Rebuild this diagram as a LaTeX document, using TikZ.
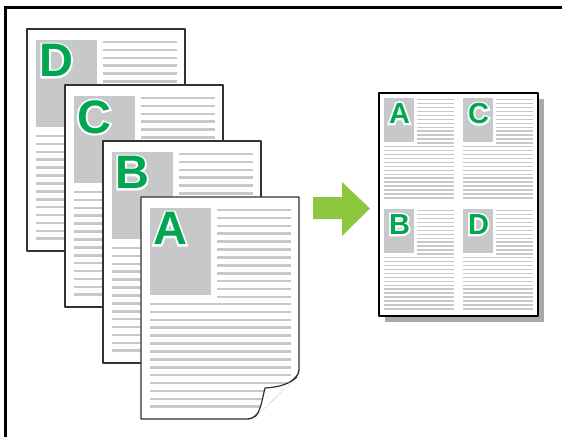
\documentclass[tikz,border=0pt]{standalone}
\usepackage{fontspec}
\setmainfont{Liberation Sans}
\newfontfamily\halobig[FakeBold=8]{Liberation Sans Bold}
\newfontfamily\halosmall[FakeBold=13]{Liberation Sans Bold}

\definecolor{sheetgreen}{RGB}{0,166,81}
\definecolor{arrowgreen}{RGB}{141,198,63}
\definecolor{textgray}{RGB}{199,200,202}
\definecolor{edgegray}{RGB}{50,50,50}
\definecolor{shadowgray}{RGB}{167,169,172}

\tikzset{
  sheet/.style={draw=edgegray, line width=1.4pt, fill=white, line join=round},
  letter/.style={inner sep=0pt, outer sep=0pt}
}

% box and text lines of one sheet: #1 shift, #2 scale
\newcommand{\sheetbody}[2]{%
  \begin{scope}[shift={#1}, scale=#2]
    \fill[textgray] (9,10.5) rectangle (70,98);
    \foreach \k in {0,...,11}
      \draw[textgray, line width=#2*2.6pt] (76,13+7.9*\k) -- (150,13+7.9*\k);
    \foreach \k in {0,...,13}
      \draw[textgray, line width=#2*2.6pt] (9,107+7.9*\k) -- (150,107+7.9*\k);
  \end{scope}}

% outlined letter: #1 name, #2 anchor, #3 position, #4 font size, #5 halo font, #6 letter
\newcommand{\sheetletter}[6]{%
  \node[letter, anchor=#2, text=white, font=#5\fontsize{#4}{#4}\selectfont] at #3 {#6};
  \node[letter, anchor=#2, text=sheetgreen, font=\bfseries\fontsize{#4}{#4}\selectfont]
    (#1) at #3 {#6};}

\begin{document}
\begin{tikzpicture}[x=1pt, y=-1pt]
  \useasboundingbox (0,0) rectangle (562,437);

  % frame on top and left
  \draw[line width=3.2pt] (5.5,437) -- (5.5,7.3) -- (562,7.3);

  % stacked sheets D, C, B
  \foreach \px/\py/\lt in {27/29/D, 65/85/C, 103/141/B}{
    \path[sheet] (\px,\py) rectangle ++(158,222);
    \sheetbody{(\px,\py)}{1}
    \sheetletter{big\lt}{north west}{(\px+12,\py+15.5)}{47}{\halobig}{\lt}
  }

  % front sheet A with curled corner
  \path[sheet] (141,197) -- (299,197) -- (299,360) [rounded corners=4pt] -- (299,374)
    -- (252,419) -- (240,419) [sharp corners] -- (141,419) -- cycle;
  \begin{scope}
    \clip (141,197) -- (299,197) -- (299,374) -- (252,419) -- (141,419) -- cycle;
    \sheetbody{(141,197)}{1}
  \end{scope}
  \filldraw[fill=white, draw=edgegray, line width=1.2pt, line join=round]
    (297,377) .. controls (289,384) and (280,387) .. (265,388)
    .. controls (262,400) and (261,410) .. (255,417);
  \sheetletter{bigA}{north west}{(153,212.5)}{47}{\halobig}{A}

  % arrow
  \fill[arrowgreen] (313,197) -- (342,197) -- (342,182) -- (370,208.5)
    -- (342,236) -- (342,219) -- (313,219) -- cycle;

  % result sheet with four pages
  \fill[shadowgray] (385,99) rectangle (544,322);
  \path[sheet, draw=black, line width=2pt] (379,93) rectangle (538,316);
  \sheetbody{(379,93)}{0.5}
  \sheetbody{(458,93)}{0.5}
  \sheetbody{(379,204)}{0.5}
  \sheetbody{(458,204)}{0.5}
  \sheetletter{smallA}{north}{(399.5,103.5)}{29}{\halosmall}{A}
  \sheetletter{smallC}{north}{(478.5,103.5)}{29}{\halosmall}{C}
  \sheetletter{smallB}{north}{(399.5,214.5)}{29}{\halosmall}{B}
  \sheetletter{smallD}{north}{(478.5,214.5)}{29}{\halosmall}{D}
\end{tikzpicture}
\end{document}
